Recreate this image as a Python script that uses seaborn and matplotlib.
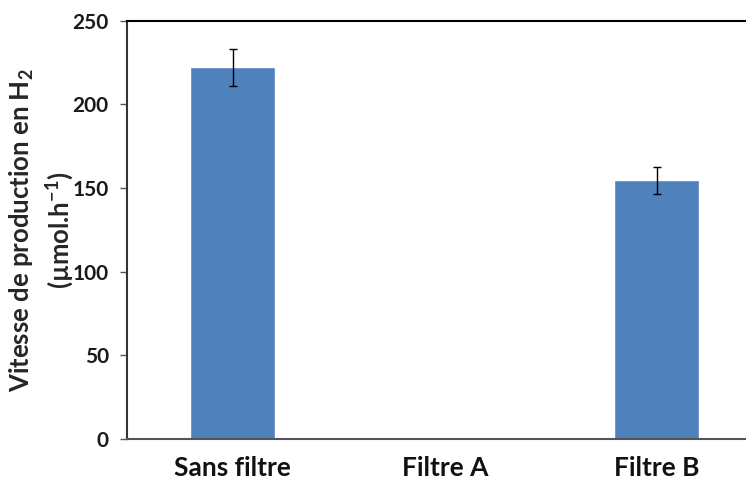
import matplotlib
matplotlib.use("Agg")
import matplotlib.pyplot as plt
import seaborn as sns
import pandas as pd

categories = ["Sans filtre", "Filtre A", "Filtre B"]
rates = [222, 0, 154.5]
errors = [11, 0, 8]
yticks = [0, 50, 100, 150, 200, 250]

sns.set_style("white")
plt.rcParams['font.family'] = ['Lato', 'DejaVu Sans']
plt.rcParams['mathtext.fontset'] = 'custom'
plt.rcParams['mathtext.rm'] = 'Lato:bold'
plt.rcParams['mathtext.it'] = 'Lato:bold'
plt.rcParams['mathtext.bf'] = 'Lato:bold'

df = pd.DataFrame({"cat": categories, "rate": rates})

fig = plt.figure(figsize=(7.46, 4.86), dpi=100)
ax = fig.add_axes([0.170, 0.0967, 0.8525, 0.861])

sns.barplot(data=df, x="cat", y="rate", color="#4F81BD", width=0.4,
            saturation=1, errorbar=None, ax=ax)
for i, (v, e) in enumerate(zip(rates, errors)):
    if e > 0:
        ax.errorbar(i, v, yerr=e, color="black", capsize=3, elinewidth=1,
                    capthick=1)

ax.set_xlim(-0.5, 2.5)
ax.set_ylim(0, 250)
ax.set_yticks(yticks)
ax.set_yticklabels([str(t) for t in yticks], fontsize=15, fontweight="bold",
                   color="#1a1a1a")
ax.set_xticks(range(len(categories)))
ax.set_xticklabels(categories, fontsize=19, fontweight="bold", color="#111111")
ax.set_xticks([-0.5, 0.5, 1.5, 2.5], minor=True)
ax.tick_params(axis="x", which="major", length=0, pad=12)
ax.tick_params(axis="x", which="minor", length=8, width=1, color="#888888")
ax.tick_params(axis="y", length=5, width=1, color="#555555", pad=8, left=True)

ax.set_xlabel("")
ax.set_ylabel("Vitesse de production en H$_2$\n(µmol.h$^{-1}$)", fontsize=18.5,
              fontweight="bold", linespacing=1.3)
ax.yaxis.set_label_coords(-0.080, 0.5)

for s in ["left", "bottom", "top"]:
    ax.spines[s].set_visible(True)
    ax.spines[s].set_linewidth(1.5)
ax.spines["left"].set_color("#333333")
ax.spines["bottom"].set_color("#555555")
ax.spines["top"].set_color("black")
ax.spines["right"].set_visible(False)

fig.savefig("out.png", dpi=100)
